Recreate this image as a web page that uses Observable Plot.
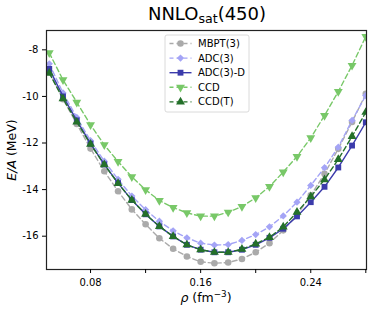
<!DOCTYPE html>
<html><head><meta charset="utf-8">
<script src="https://cdn.jsdelivr.net/npm/d3@7"></script>
<script src="https://cdn.jsdelivr.net/npm/@observablehq/plot@0.6"></script>
<style>body{margin:0;background:#fff;font-family:"DejaVu Sans",sans-serif;}</style>
</head><body><div id="chart"></div>
<script>
const rho = [0.05,0.06,0.07,0.08,0.09,0.10,0.11,0.12,0.13,0.14,0.15,0.16,0.17,0.18,0.19,0.20,0.21,0.22,0.23,0.24,0.25,0.26,0.27,0.28];
const mbpt3 = [-8.95,-10.12,-11.18,-12.24,-13.21,-14.07,-14.85,-15.49,-16.09,-16.54,-16.87,-17.1,-17.16,-17.13,-16.98,-16.69,-16.3,-15.75,-15.08,-14.25,-13.32,-12.25,-11.1,-9.89];
const adc3 = [-8.6,-9.85,-10.9,-11.9,-12.78,-13.56,-14.28,-14.86,-15.36,-15.77,-16.07,-16.3,-16.38,-16.36,-16.18,-15.93,-15.6,-15.13,-14.54,-13.82,-13.06,-12.18,-11.03,-9.96];
const adc3d = [-8.82,-10.0,-11.03,-12.03,-12.92,-13.72,-14.45,-15.06,-15.58,-16.01,-16.37,-16.58,-16.69,-16.69,-16.58,-16.37,-16.07,-15.68,-15.15,-14.54,-13.88,-13.05,-12.11,-11.11];
const ccd = [-8.13,-9.29,-10.25,-11.22,-12.08,-12.8,-13.45,-14.01,-14.47,-14.77,-15.0,-15.14,-15.14,-14.97,-14.73,-14.35,-13.87,-13.25,-12.58,-11.78,-10.82,-9.79,-8.67,-7.43];
const ccdt = [-9.0,-10.1,-11.1,-12.05,-12.93,-13.73,-14.45,-15.05,-15.58,-16.01,-16.37,-16.58,-16.69,-16.69,-16.56,-16.33,-16.05,-15.6,-14.97,-14.3,-13.57,-12.7,-11.72,-10.68];

const seriesNames = ["MBPT(3)","ADC(3)","ADC(3)-D","CCD","CCD(T)"];
const seriesValues = [mbpt3, adc3, adc3d, ccd, ccdt];
const seriesColors = ["#aaaaaa","#a4a4f6","#3b3bab","#78c868","#24702a"];
const seriesSymbols = ["circle","diamond2","square","triangle","triangle"];
const seriesRotate = [0,0,0,180,0];
const seriesDash = ["5,3","5,3",null,"5,3","5,3"];

const xTicks = [0.08,0.12,0.16,0.20,0.24,0.28];
const xLabeled = [0.08,0.16,0.24];
const yTicks = [-8,-10,-12,-14,-16];

const R = 3.3;
const marks = [];
seriesNames.forEach((name, k) => {
  const rows = rho.map((r, i) => ({rho: r, e: seriesValues[k][i]}));
  marks.push(Plot.line(rows, {x: "rho", y: "e", stroke: seriesColors[k], strokeWidth: 1.4,
    strokeDasharray: seriesDash[k] || undefined, clip: true}));
  marks.push(Plot.dot(rows, {x: "rho", y: "e", symbol: seriesSymbols[k], fill: seriesColors[k],
    r: R, rotate: seriesRotate[k], clip: true}));
});

const svg = Plot.plot({
  width: 374, height: 312,
  marginLeft: 46, marginRight: 8, marginTop: 30, marginBottom: 43,
  style: {fontFamily: "DejaVu Sans", fontSize: "10px", color: "#000", background: "#fff"},
  x: {domain: [0.048, 0.2805]},
  y: {domain: [-17.43, -7.17]},
  marks: [
    ...marks,
    Plot.frame({stroke: "#222", strokeWidth: 1.2}),
    Plot.axisX({ticks: xTicks, tickFormat: d => xLabeled.includes(d) ? d.toFixed(2) : "",
      tickSize: 4, tickPadding: 5, label: null, fontSize: 10}),
    Plot.axisY({ticks: yTicks, tickFormat: d => String(d), tickSize: 4, tickPadding: 4,
      label: null, fontSize: 10})
  ]
});

const s = d3.select(svg);
// title
const t = s.append("text").attr("x", 207).attr("y", 19.5).attr("text-anchor", "middle")
  .attr("font-size", 18).attr("fill", "#000");
t.append("tspan").text("NNLO");
t.append("tspan").attr("font-size", 12.6).attr("dy", 3.5).text("sat");
t.append("tspan").attr("dy", -3.5).text("(450)");
// y label
const yl = s.append("text").attr("transform", "translate(16,150) rotate(-90)")
  .attr("text-anchor", "middle").attr("font-size", 12.5).attr("fill", "#000");
yl.append("tspan").attr("font-style", "italic").text("E/A");
yl.append("tspan").text(" (MeV)");
// x label
const xl = s.append("text").attr("x", 206).attr("y", 302).attr("text-anchor", "middle")
  .attr("font-size", 12.5).attr("fill", "#000");
xl.append("tspan").attr("font-style", "italic").text("ρ");
xl.append("tspan").text(" (fm");
xl.append("tspan").attr("font-size", 8.8).attr("dy", -5).text("−3");
xl.append("tspan").attr("dy", 5).text(")");
// legend
const lg = s.append("g");
lg.append("rect").attr("x", 165).attr("y", 35).attr("width", 84).attr("height", 77)
  .attr("rx", 2).attr("fill", "#fff").attr("fill-opacity", 0.8).attr("stroke", "#d0d0d0").attr("stroke-width", 0.8);
const symMap = {circle: d3.symbolCircle, diamond2: d3.symbolDiamond2, square: d3.symbolSquare, triangle: d3.symbolTriangle};
seriesNames.forEach((name, k) => {
  const y = 43.5 + k * 14.6;
  lg.append("line").attr("x1", 169.5).attr("x2", 191.5).attr("y1", y).attr("y2", y)
    .attr("stroke", seriesColors[k]).attr("stroke-width", 1.4)
    .attr("stroke-dasharray", seriesDash[k] ? "4,3" : null);
  lg.append("path").attr("d", d3.symbol(symMap[seriesSymbols[k]], R * R * Math.PI)())
    .attr("transform", `translate(180.5,${y}) rotate(${seriesRotate[k]})`).attr("fill", seriesColors[k]);
  lg.append("text").attr("x", 198).attr("y", y).attr("dy", "0.35em").attr("font-size", 10)
    .attr("text-anchor", "start").attr("fill", "#000").text(name);
});
document.getElementById("chart").appendChild(svg);
</script>
</body></html>
